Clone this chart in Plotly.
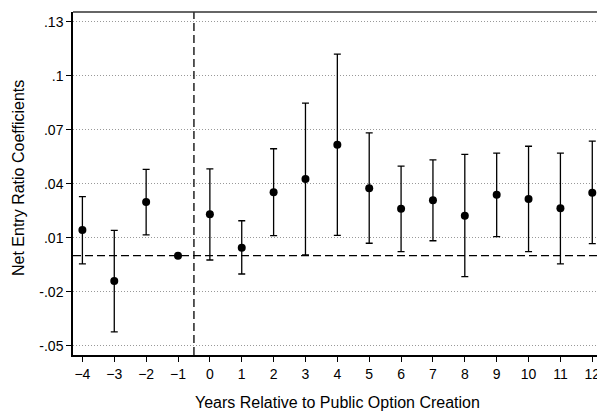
import plotly.graph_objects as go

years = [-4, -3, -2, -1, 0, 1, 2, 3, 4, 5, 6, 7, 8, 9, 10, 11, 12]
coef = [0.0143, -0.0141, 0.0298, 0.0, 0.0230, 0.0044, 0.0352, 0.0426, 0.0617,
        0.0374, 0.0260, 0.0308, 0.0222, 0.0339, 0.0315, 0.0263, 0.0350]
ci_hi = [0.0328, 0.0141, 0.0480, 0.0, 0.0482, 0.0194, 0.0594, 0.0848, 0.1120,
         0.0682, 0.0498, 0.0532, 0.0563, 0.0570, 0.0608, 0.0570, 0.0637]
ci_lo = [-0.0046, -0.0424, 0.0115, 0.0, -0.0024, -0.0102, 0.0111, 0.0004, 0.0113,
         0.0069, 0.0022, 0.0083, -0.0117, 0.0106, 0.0022, -0.0046, 0.0067]

ytick_vals = [-0.05, -0.02, 0.01, 0.04, 0.07, 0.10, 0.13]
ytick_text = ["-.05", "-.02", ".01", ".04", ".07", ".1", ".13"]

err_plus = [h - c for h, c in zip(ci_hi, coef)]
err_minus = [c - l for c, l in zip(coef, ci_lo)]

L, T, B = 73, 12, 57
W, H = 597, 412
ph = H - T - B

fig = go.Figure()
fig.add_trace(go.Scatter(
    x=years, y=coef, mode="markers",
    marker=dict(color="black", size=8),
    error_y=dict(type="data", symmetric=False, array=err_plus, arrayminus=err_minus,
                 color="black", thickness=1.3, width=3.5),
    showlegend=False, cliponaxis=False,
))

fig.add_hline(y=0, line=dict(color="black", width=1.3, dash="8px,4px"))
fig.add_vline(x=-0.5, line=dict(color="black", width=1.3, dash="8px,4px"))
fig.add_shape(type="line", xref="paper", yref="paper", x0=0, x1=1, y0=1, y1=1,
              line=dict(color="#333333", width=1.5))

fig.update_layout(
    width=W, height=H,
    margin=dict(l=L, r=0, t=T, b=B, autoexpand=False),
    plot_bgcolor="white", paper_bgcolor="white",
    font=dict(family="Liberation Sans, Arial, sans-serif", color="black", size=14),
    xaxis=dict(range=[-4.295, 12.148], tickvals=years, ticks="outside", ticklen=5,
               tickcolor="black", showline=True, linecolor="black", linewidth=1.5,
               showgrid=False, zeroline=False, tickfont=dict(size=14), automargin=False,
               ticklabeloverflow="allow"),
    yaxis=dict(range=[-0.0552, 0.1354], tickvals=ytick_vals, ticktext=ytick_text,
               ticks="outside", ticklen=5, tickcolor="black", showline=True,
               linecolor="black", linewidth=1.5, showgrid=True, gridcolor="#999999",
               griddash="1px,2px", gridwidth=1, zeroline=False, tickfont=dict(size=14),
               automargin=False),
)

fig.add_annotation(text="Years Relative to Public Option Creation", xref="paper", yref="paper",
                   x=(337 - L) / (W - L), y=-(402 - (H - B)) / ph, yanchor="middle",
                   xanchor="center", showarrow=False, font=dict(size=16))
fig.add_annotation(text="Net Entry Ratio Coefficients", xref="paper", yref="paper",
                   x=-(L - 18) / (W - L), y=(H - B - 178) / ph, textangle=-90, xanchor="center",
                   yanchor="middle", showarrow=False, font=dict(size=16))

fig.write_html("out.html", config={"displayModeBar": False},
               post_script="document.body.style.margin='0';")
